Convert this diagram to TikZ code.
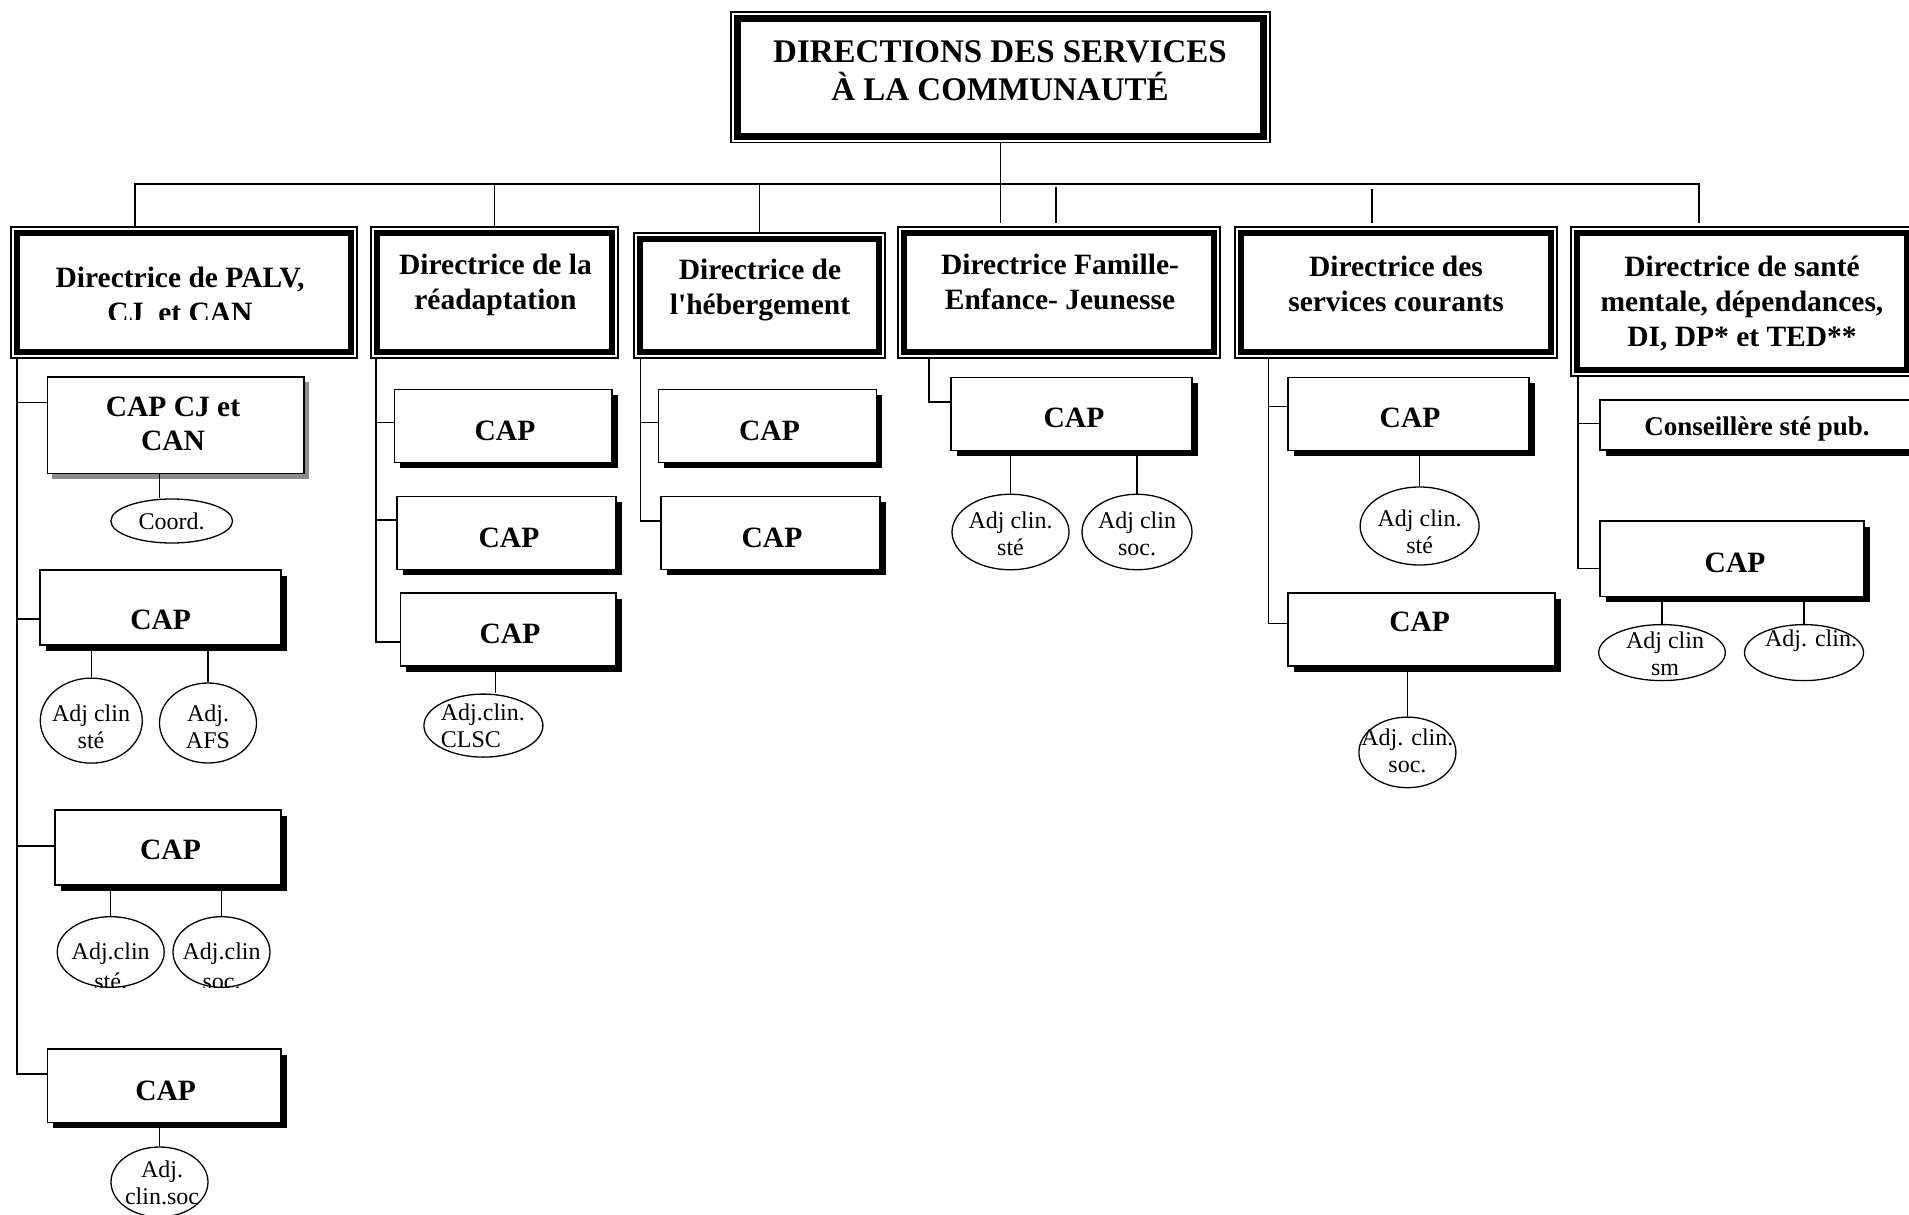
\documentclass[tikz,border=0pt]{standalone}
\usepackage{fontspec}
\setmainfont{Liberation Serif}
\usetikzlibrary{shapes.geometric,shadows}
\begin{document}
\begin{tikzpicture}[x=1pt,y=-1pt,
  conn/.style={line width=1.4pt},
  topbox/.style={draw, line width=1.4pt, inner sep=0pt, fill=white,
    path picture={\draw[line width=7pt] ([xshift=6.5pt,yshift=-6.5pt]path picture bounding box.north west) rectangle ([xshift=-6.5pt,yshift=6.5pt]path picture bounding box.south east);}},
  dirbox/.style={draw, line width=1.3pt, inner sep=0pt, fill=white,
    path picture={\draw[line width=6pt] ([xshift=6pt,yshift=-6pt]path picture bounding box.north west) rectangle ([xshift=-6pt,yshift=6pt]path picture bounding box.south east);}},
  capbox/.style={draw, line width=1.2pt, inner sep=0pt, fill=white,
    drop shadow={fill=black, opacity=1, shadow xshift=5.5pt, shadow yshift=-5.5pt}},
  capboxg/.style={draw, line width=1.2pt, inner sep=0pt, fill=white,
    drop shadow={fill=black!45, opacity=1, shadow xshift=4.5pt, shadow yshift=-5pt}},
  ell/.style={draw, ellipse, line width=1.3pt, inner sep=0pt, fill=white},
  ttl/.style={font=\bfseries\fontsize{33}{38}\selectfont, align=center, inner sep=0pt},
  dtxt/.style={font=\bfseries\fontsize{29.5}{35}\selectfont, align=center, inner sep=0pt},
  ctxt/.style={font=\bfseries\fontsize{29.5}{34}\selectfont, align=center, inner sep=0pt},
  stxt/.style={font=\bfseries\fontsize{27}{32}\selectfont, align=center, inner sep=0pt},
  etxt/.style={font=\fontsize{24}{27}\selectfont, align=center, inner sep=0pt},
]
\fill[white] (0,0) rectangle (1909,1215);
\useasboundingbox (0,0) rectangle (1909,1215);

% ---------- boxes ----------
\node[topbox, minimum width=539pt, minimum height=130.5pt] (top) at (1000.5,77.25) {};

\node[dirbox, minimum width=346pt, minimum height=131pt] (palv) at (184,292.5) {};
\node[dirbox, minimum width=247pt, minimum height=131pt] (readapt) at (494.5,292.5) {};
\node[dirbox, minimum width=251pt, minimum height=125pt] (heberg) at (759.5,295.5) {};
\node[dirbox, minimum width=322pt, minimum height=131pt] (famille) at (1059,292.5) {};
\node[dirbox, minimum width=322pt, minimum height=131pt] (services) at (1396,292.5) {};
\node[dirbox, minimum width=342pt, minimum height=149pt] (sante) at (1742,301.5) {};

% PALV column
\node[capboxg, minimum width=256.5pt, minimum height=96.6pt] (capcj) at (175.75,425.3) {};
\node[capbox, minimum width=241pt, minimum height=75pt] (pcap2) at (160.5,607.5) {};
\node[capbox, minimum width=226pt, minimum height=75pt] (pcap3) at (168,847.5) {};
\node[capbox, minimum width=233.5pt, minimum height=73.5pt] (pcap4) at (164.25,1085.75) {};
\node[ell, minimum width=121.7pt, minimum height=44pt] (coord) at (171.7,521) {};
\node[ell, minimum width=102pt, minimum height=85pt] (pell2a) at (91.3,720.6) {};
\node[ell, minimum width=97pt, minimum height=80pt] (pell2b) at (208,723) {};
\node[ell, minimum width=107pt, minimum height=70.6pt] (pell3a) at (110.7,952) {};
\node[ell, minimum width=97pt, minimum height=70.6pt] (pell3b) at (221.5,952) {};
\node[ell, minimum width=97pt, minimum height=70pt] (pell4) at (159.5,1182) {};

% Readaptation column
\node[capbox, minimum width=217.5pt, minimum height=73pt] (rcap1) at (503.25,426.1) {};
\node[capbox, minimum width=219pt, minimum height=73pt] (rcap2) at (506.5,533.25) {};
\node[capbox, minimum width=215.5pt, minimum height=73pt] (rcap3) at (508.25,629.5) {};
\node[ell, minimum width=119pt, minimum height=63pt] (rell) at (483.4,725.6) {};

% Hebergement column
\node[capbox, minimum width=218pt, minimum height=73pt] (hcap1) at (767.65,426.1) {};
\node[capbox, minimum width=219pt, minimum height=73pt] (hcap2) at (770.5,533.25) {};

% Famille column
\node[capbox, minimum width=241pt, minimum height=73pt] (fcap) at (1071.5,414) {};
\node[ell, minimum width=117pt, minimum height=75.5pt] (fell1) at (1010.5,532) {};
\node[ell, minimum width=110pt, minimum height=75.5pt] (fell2) at (1137,532) {};

% Services column
\node[capbox, minimum width=241pt, minimum height=73pt] (scap1) at (1408.5,414) {};
\node[ell, minimum width=119pt, minimum height=78pt] (sell1) at (1419.6,526) {};
\node[capbox, minimum width=267pt, minimum height=73pt] (scap2) at (1421.5,629.5) {};
\node[ell, minimum width=97pt, minimum height=70.6pt] (sell2) at (1407.4,752.4) {};

% Sante column
\node[capbox, minimum width=314pt, minimum height=50pt] (cons) at (1757,425) {};
\node[capbox, minimum width=264pt, minimum height=75.6pt] (mcap) at (1732,558.8) {};
\node[ell, minimum width=126.6pt, minimum height=56pt] (mell1) at (1662,652.6) {};
\node[ell, minimum width=119pt, minimum height=56pt] (mell2) at (1804,652.6) {};

% ---------- connectors ----------
\coordinate (busL) at (135,184);
\coordinate (busR) at (1699,184);
\coordinate (busRend) at (1699,223);
\coordinate (mainEnd) at (1000,223);
\coordinate (stubAt) at (1056,187);
\coordinate (stubAb) at (1056,223);
\coordinate (stubBt) at (1372,189);
\coordinate (stubBb) at (1372,223);

\draw[conn] (busL |- palv.north) -- (busL) -- (busR) -- (busRend);
\draw[conn] (readapt.north) -- (readapt.north |- busL);
\draw[conn] (heberg.north) -- (heberg.north |- busL);
\draw[conn] (top.south) -- (top.south |- mainEnd);
\draw[conn] (stubAt) -- (stubAb);
\draw[conn] (stubBt) -- (stubBb);

\coordinate (cp) at (17,0);
\coordinate (cr) at (376,0);
\coordinate (ch) at (640.4,0);
\coordinate (cf) at (929,0);
\coordinate (cs) at (1268.6,0);
\coordinate (cm) at (1578,0);

% PALV
\draw[conn] (cp |- palv.south) -- ([yshift=11.75pt]pcap4.west -| cp) -- ([yshift=11.75pt]pcap4.west);
\draw[conn] ([yshift=22.6pt]capcj.west -| cp) -- ([yshift=22.6pt]capcj.west);
\draw[conn] ([yshift=-11.5pt]pcap2.west -| cp) -- ([yshift=-11.5pt]pcap2.west);
\draw[conn] ([yshift=1.5pt]pcap3.west -| cp) -- ([yshift=1.5pt]pcap3.west);
\draw[conn] ([xshift=-12.2pt]coord.north |- capcj.south) -- ([xshift=-12.2pt]coord.north);
\draw[conn] (pell2a.north |- pcap2.south) -- (pell2a.north);
\draw[conn] (pell2b.north |- pcap2.south) -- (pell2b.north);
\draw[conn] (pell3a.north |- pcap3.south) -- (pell3a.north);
\draw[conn] (pell3b.north |- pcap3.south) -- (pell3b.north);
\draw[conn] (pell4.north |- pcap4.south) -- (pell4.north);

% Readaptation
\draw[conn] (cr |- readapt.south) -- ([yshift=-12.5pt]rcap3.west -| cr) -- ([yshift=-12.5pt]rcap3.west);
\draw[conn] ([yshift=3.6pt]rcap1.west -| cr) -- ([yshift=3.6pt]rcap1.west);
\draw[conn] ([yshift=13.25pt]rcap2.west -| cr) -- ([yshift=13.25pt]rcap2.west);
\draw[conn] ([xshift=12.1pt]rell.north |- rcap3.south) -- ([xshift=12.1pt]rell.north);

% Hebergement
\draw[conn] (ch |- heberg.south) -- ([yshift=12.25pt]hcap2.west -| ch) -- ([yshift=12.25pt]hcap2.west);
\draw[conn] ([yshift=3.6pt]hcap1.west -| ch) -- ([yshift=3.6pt]hcap1.west);

% Famille
\draw[conn] (cf |- famille.south) -- ([yshift=12.2pt]fcap.west -| cf) -- ([yshift=12.2pt]fcap.west);
\draw[conn] (fell1.north |- fcap.south) -- (fell1.north);
\draw[conn] (fell2.north |- fcap.south) -- (fell2.north);

% Services
\draw[conn] (cs |- services.south) -- ([yshift=6.1pt]scap2.west -| cs) -- ([yshift=6.1pt]scap2.west);
\draw[conn] ([yshift=7.4pt]scap1.west -| cs) -- ([yshift=7.4pt]scap1.west);
\draw[conn] (sell1.north |- scap1.south) -- (sell1.north);
\draw[conn] (sell2.north |- scap2.south) -- (sell2.north);

% Sante
\draw[conn] (cm |- sante.south) -- ([yshift=-9.8pt]mcap.west -| cm) -- ([yshift=-9.8pt]mcap.west);
\draw[conn] ([yshift=1.3pt]cons.west -| cm) -- ([yshift=1.3pt]cons.west);
\draw[conn] (mell1.north |- mcap.south) -- (mell1.north);
\draw[conn] (mell2.north |- mcap.south) -- (mell2.north);

% ---------- texts ----------
\node[ttl] (top-t) at (1000,71) {DIRECTIONS DES SERVICES\\À LA COMMUNAUTÉ};

\begin{scope}
  \clip (0,200) rectangle (400,319);
  \node[dtxt] (palv-t) at (180,295) {Directrice de PALV,\\CJ\ \ et CAN};
\end{scope}
\node[dtxt] (readapt-t) at (495.5,285) {Directrice de la\\réadaptation};
\node[dtxt] (heberg-t) at (760,290) {Directrice de\\l\textquotesingle hébergement};
\node[dtxt] (famille-t) at (1060,282) {Directrice Famille-\\Enfance- Jeunesse};
\node[dtxt] (services-t) at (1396,284) {Directrice des\\services courants};
\node[dtxt] (sante-t) at (1742,303.5) {Directrice de santé\\mentale, dépendances,\\DI, DP* et TED**};

\node[ctxt] (capcj-t) at (173,423.6) {CAP CJ et\\CAN};
\node[ctxt] (pcap2-t) at (160.7,620) {CAP};
\node[ctxt] (pcap3-t) at (170.5,850) {CAP};
\node[ctxt] (pcap4-t) at (165.6,1091) {CAP};
\node[ctxt] (rcap1-t) at (505,431) {CAP};
\node[ctxt] (rcap2-t) at (509,538) {CAP};
\node[ctxt] (rcap3-t) at (510,634) {CAP};
\node[ctxt] (hcap1-t) at (769.5,431) {CAP};
\node[ctxt] (hcap2-t) at (772,538) {CAP};
\node[ctxt] (fcap-t) at (1074,417.6) {CAP};
\node[ctxt] (scap1-t) at (1410,417.6) {CAP};
\node[ctxt] (scap2-t) at (1419.6,622) {CAP};
\node[stxt] (cons-t) at (1757,429) {Conseillère sté pub.};
\node[ctxt] (mcap-t) at (1735,562.5) {CAP};

\node[etxt] (coord-t) at (171.7,521) {Coord.};
\node[etxt] (pell2a-t) at (91,727) {Adj clin\\sté};
\node[etxt] (pell2b-t) at (208,727) {Adj.\\AFS};
\begin{scope}
  \clip (0,900) rectangle (300,987);
  \node[etxt, font=\fontsize{24}{30}\selectfont] (pell3a-t) at (110.7,966.8) {Adj.clin\\sté.};
  \node[etxt, font=\fontsize{24}{30}\selectfont] (pell3b-t) at (221.6,966.8) {Adj.clin\\soc.};
\end{scope}
\node[etxt] (pell4-t) at (162,1183) {Adj.\\clin.soc};
\node[etxt, align=left, anchor=west] (rell-t) at (440.7,726) {Adj.clin.\\CLSC};
\node[etxt] (fell1-t) at (1010.5,534) {Adj clin.\\sté};
\node[etxt] (fell2-t) at (1137,534) {Adj clin\\soc.};
\node[etxt] (sell1-t) at (1419.6,531.5) {Adj clin.\\sté};
\node[etxt] (sell2-t) at (1407.4,750.6) {Adj. clin.\\soc.};
\node[etxt] (mell1-t) at (1665,654) {Adj clin\\sm};
\node[etxt] (mell2-t) at (1811,640.4) {Adj. clin.};
\end{tikzpicture}
\end{document}
